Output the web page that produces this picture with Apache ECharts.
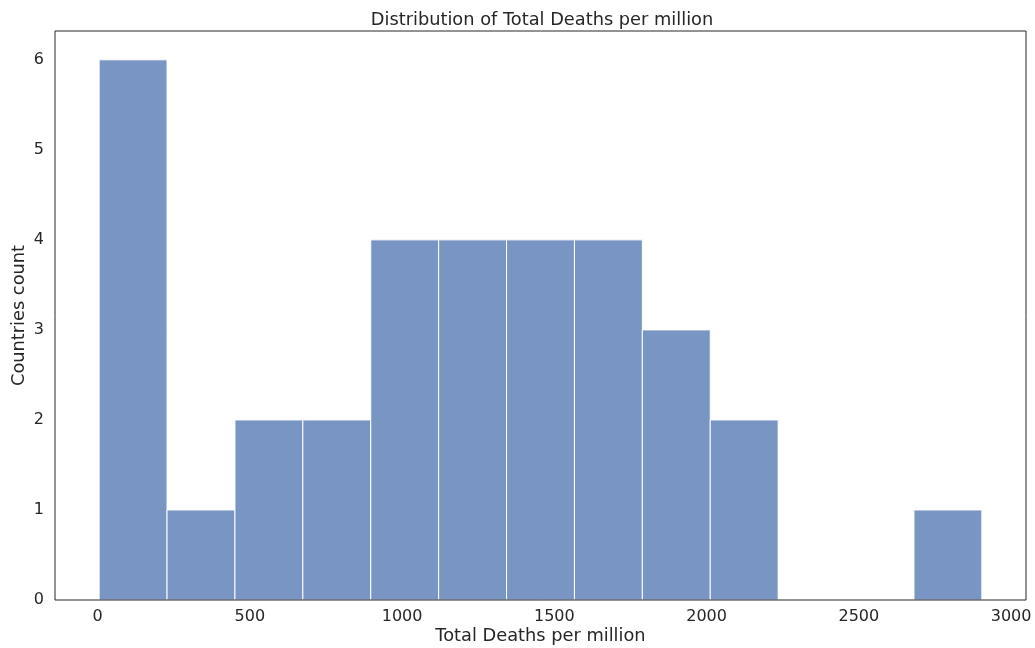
<!DOCTYPE html>
<html>
<head>
<meta charset="utf-8">
<script src="https://cdn.jsdelivr.net/npm/echarts@6/dist/echarts.min.js"></script>
<style>
html,body{margin:0;padding:0;background:#fff;}
#chart{width:1035px;height:648px;}
</style>
</head>
<body>
<div id="chart"></div>
<script>
// Histogram data
const binEdges = [5, 228, 451, 674, 897, 1120, 1343, 1566, 1789, 2012, 2235, 2458, 2681, 2904];
const counts = [6, 1, 2, 2, 4, 4, 4, 4, 3, 2, 0, 0, 1];
const xTicks = [0, 500, 1000, 1500, 2000, 2500, 3000];
const yTicks = [0, 1, 2, 3, 4, 5, 6];

const bars = counts.map((c, i) => [binEdges[i], binEdges[i + 1], c]);
const span = binEdges[binEdges.length - 1] - binEdges[0];
const xMin = binEdges[0] - 0.05 * span;
const xMax = binEdges[binEdges.length - 1] + 0.05 * span;
const font = "'DejaVu Sans', sans-serif";
const txt = '#262626';

const chart = echarts.init(document.getElementById('chart'), null, {renderer: 'canvas'});
chart.setOption({
  animation: false,
  backgroundColor: '#fff',
  title: {
    text: 'Distribution of Total Deaths per million',
    left: 537, top: 6, textAlign: 'center',
    textStyle: {fontFamily: font, fontSize: 17.8, fontWeight: 'normal', color: txt}
  },
  grid: {left: 55, right: 9, top: 31, bottom: 48, outerBoundsMode: 'none', containLabel: false,
         show: true, borderColor: '#262626', borderWidth: 1, backgroundColor: 'transparent', z: 5},
  xAxis: {
    type: 'value', min: xMin, max: xMax,
    name: 'Total Deaths per million', nameLocation: 'middle', nameGap: 27, nameMoveOverlap: false,
    nameTextStyle: {fontFamily: font, fontSize: 17.8, color: txt},
    axisLine: {show: false}, axisTick: {show: false}, splitLine: {show: false},
    axisLabel: {customValues: xTicks, formatter: v => String(v), fontFamily: font, fontSize: 16, color: txt, margin: 9}
  },
  yAxis: {
    type: 'value', min: 0, max: 6.32,
    name: 'Countries count', nameLocation: 'middle', nameGap: 27, nameRotate: 90, nameMoveOverlap: false,
    nameTextStyle: {fontFamily: font, fontSize: 17.8, color: txt},
    axisLine: {show: false}, axisTick: {show: false}, splitLine: {show: false},
    axisLabel: {customValues: yTicks, formatter: v => String(v), fontFamily: font, fontSize: 16, color: txt, margin: 11}
  },
  series: [{
    type: 'custom',
    z: 1,
    data: bars,
    encode: {x: [0, 1], y: 2},
    renderItem: function (params, api) {
      if (api.value(2) <= 0) return null;
      const a = api.coord([api.value(0), 0]);
      const b = api.coord([api.value(1), api.value(2)]);
      return {
        type: 'rect',
        shape: {x: a[0], y: b[1], width: b[0] - a[0], height: a[1] - b[1]},
        style: {fill: 'rgba(76,114,176,0.75)', stroke: '#ffffff', lineWidth: 1}
      };
    }
  }]
});
</script>
</body>
</html>
